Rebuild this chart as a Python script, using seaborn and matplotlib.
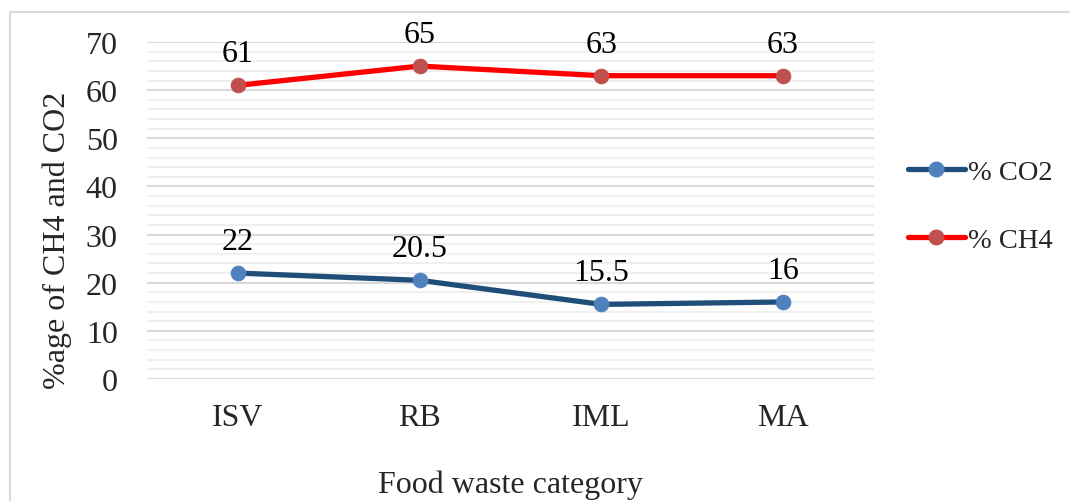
import matplotlib
matplotlib.use("Agg")
import matplotlib.pyplot as plt
from matplotlib.lines import Line2D
from matplotlib.patches import Rectangle
from matplotlib.ticker import MultipleLocator
import seaborn as sns
import pandas as pd

categories = ["ISV", "RB", "IML", "MA"]
co2_values = [22, 20.5, 15.5, 16]
ch4_values = [61, 65, 63, 63]
co2_labels = ["22", "20.5", "15.5", "16"]
ch4_labels = ["61", "65", "63", "63"]
series_names = ["% CO2", "% CH4"]

sns.set_theme(style="white")
plt.rcParams['font.family'] = ['Liberation Serif', 'DejaVu Serif']
FS = 23
LFS = 20.5

fig = plt.figure(figsize=(10.7, 5.02), dpi=100)
ax = fig.add_axes([147/1070, (502-380)/502, (874-147)/1070, (380-43)/502])

# chart border
fig.patches.append(Rectangle((10/1070, -0.1), 1.2, (502-13)/502 + 0.1, transform=fig.transFigure,
                             fill=False, edgecolor="#d9d9d9", linewidth=1.5, zorder=0))

df_co2 = pd.DataFrame({"cat": categories, "val": co2_values})
df_ch4 = pd.DataFrame({"cat": categories, "val": ch4_values})

line_cols = ["#1f4e79", "#ff0000"]
mark_cols = ["#4f81bd", "#c0504d"]

for df, lc, mc in [(df_co2, line_cols[0], mark_cols[0]), (df_ch4, line_cols[1], mark_cols[1])]:
    sns.lineplot(data=df, x="cat", y="val", ax=ax, color=lc, linewidth=3.8, marker="o",
                 markersize=10.5, markerfacecolor=mc, markeredgecolor=mc, sort=False, zorder=3)

for vals, labs in [(co2_values, co2_labels), (ch4_values, ch4_labels)]:
    for i, (v, t) in enumerate(zip(vals, labs)):
        ax.annotate(t, (i, v), xytext=(0, 24), textcoords="offset pixels",
                    ha="center", va="baseline", fontsize=FS, color="black")

ax.set_xlim(-0.5, 3.5)
ax.set_ylim(0, 70)
ax.yaxis.set_major_locator(MultipleLocator(10))
ax.yaxis.set_minor_locator(MultipleLocator(2))
ax.grid(which="major", axis="y", color="#d9d9d9", linewidth=1.5, zorder=0)
ax.grid(which="minor", axis="y", color="#f0f0f0", linewidth=1.5, zorder=0)
ax.grid(which="major", axis="x", visible=False)
ax.set_axisbelow(True)
for s in ax.spines.values():
    s.set_visible(False)
ax.tick_params(axis="y", which="both", length=0, pad=21, labelsize=FS)
ax.tick_params(axis="x", which="both", length=0, pad=17, labelsize=FS)

ax.set_xlabel("Food waste category", fontsize=FS)
ax.set_ylabel("%age of CH4 and CO2", fontsize=FS)
ax.xaxis.set_label_coords(0.5, -(485-380)/337, transform=ax.transAxes)
ax.xaxis.label.set_va("center")
ax.yaxis.set_label_coords(-(147-57)/727, (380-240)/337, transform=ax.transAxes)
ax.yaxis.label.set_va("center")

handles = [Line2D([], [], color=line_cols[i], linewidth=3.8, marker="o", markersize=10.5,
                  markerfacecolor=mark_cols[i], markeredgecolor=mark_cols[i]) for i in range(2)]
leg = fig.legend(handles, series_names, loc="center left", bbox_to_anchor=(908/1070, 1 - 207/502),
                 frameon=False, fontsize=LFS, handlelength=2.0, handletextpad=0.1,
                 labelspacing=1.5, borderpad=0, borderaxespad=0)

fig.savefig("out.png", dpi=100)
